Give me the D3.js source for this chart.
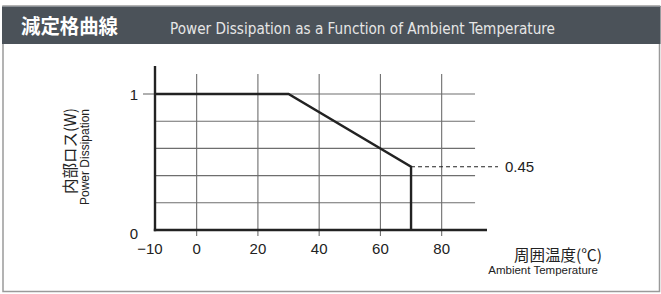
<!DOCTYPE html>
<html><head><meta charset="utf-8">
<script src="https://cdn.jsdelivr.net/npm/d3@7"></script>
<style>
html,body{margin:0;padding:0;background:#fff;}
svg{display:block;}
</style></head>
<body>
<svg id="c" width="661" height="294"></svg>
<script>
const titleJa = "減定格曲線";
const titleEn = "Power Dissipation as a Function of Ambient Temperature";
const yTitleJa = "内部ロス(W)";
const yTitleEn = "Power Dissipation";
const xTitleJa = "周囲温度(℃)";
const xTitleEn = "Ambient Temperature";

const xTicks = [-10, 0, 20, 40, 60, 80];
const xGrid = [0, 20, 40, 60, 80];
const yTicks = [0, 1];
const yGrid = [0.2, 0.4, 0.6, 0.8, 1];
const curveTemp = [-13.6, 30, 70, 70];
const curvePower = [1, 1, 0.465, 0];
const markTemp = 70;
const markPower = 0.465;
const markLabel = "0.45";

const svg = d3.select("#c");
const sans = "'Liberation Sans', Arial, Helvetica, sans-serif";

// frame
svg.append("rect").attr("x", 3).attr("y", 6).attr("width", 656.5).attr("height", 285.5)
  .attr("fill", "#fff").attr("stroke", "#9a9a9a").attr("stroke-width", 1.5);
svg.append("rect").attr("x", 2).attr("y", 6).attr("width", 658.5).attr("height", 38)
  .attr("fill", "#4b5259");
svg.append("line").attr("x1", 2).attr("x2", 661).attr("y1", 6.5).attr("y2", 6.5)
  .attr("stroke", "#8a8f94").attr("stroke-width", 1);

svg.append("text").attr("x", 21).attr("y", 34).text(titleJa)
  .attr("fill", "#fff").attr("font-size", 20).attr("font-weight", "bold")
  .attr("font-family", "'Noto Sans CJK JP', sans-serif")
  .attr("textLength", 97).attr("lengthAdjust", "spacingAndGlyphs");
svg.append("text").attr("x", 170).attr("y", 33.5).text(titleEn)
  .attr("fill", "#e6e6e6").attr("font-size", 15)
  .attr("font-family", "'Liberation Sans Narrow', 'DejaVu Sans Condensed', 'Liberation Sans', sans-serif")
  .attr("textLength", 385).attr("lengthAdjust", "spacingAndGlyphs");

// scales
const x = d3.scaleLinear().domain([-13.6, 94.8]).range([155, 487]);
const y = d3.scaleLinear().domain([0, 1]).range([230, 94]);

const g = svg.append("g");
// vertical grid
g.selectAll(".vg").data(xGrid).join("line")
  .attr("x1", d => x(d)).attr("x2", d => x(d))
  .attr("y1", y(1.147)).attr("y2", y(0) + 6)
  .attr("stroke", "#6e6e6e").attr("stroke-width", 1.1);
// horizontal grid
g.selectAll(".hg").data(yGrid).join("line")
  .attr("x1", x(-13.6)).attr("x2", x(90.9))
  .attr("y1", d => y(d)).attr("y2", d => y(d))
  .attr("stroke", "#6e6e6e").attr("stroke-width", 1.1);
// y tick at 1
g.append("line").attr("x1", 143).attr("x2", x(-13.6)).attr("y1", y(1)).attr("y2", y(1))
  .attr("stroke", "#6e6e6e").attr("stroke-width", 1.1);

// axes
g.append("line").attr("x1", x(-13.6)).attr("x2", x(-13.6)).attr("y1", y(1.206)).attr("y2", y(0) + 1.2)
  .attr("stroke", "#222").attr("stroke-width", 2.4);
g.append("line").attr("x1", x(-13.6) - 1.2).attr("x2", x(94.8)).attr("y1", y(0)).attr("y2", y(0))
  .attr("stroke", "#222").attr("stroke-width", 2.4);

// curve
const pts = curveTemp.map((t, i) => [t, curvePower[i]]);
g.append("path").attr("d", d3.line().x(d => x(d[0])).y(d => y(d[1]))(pts))
  .attr("fill", "none").attr("stroke", "#222").attr("stroke-width", 2.4)
  .attr("stroke-linejoin", "miter");

// dashed marker
g.append("line").attr("x1", x(markTemp)).attr("x2", 498)
  .attr("y1", y(markPower)).attr("y2", y(markPower))
  .attr("stroke", "#222").attr("stroke-width", 1.1).attr("stroke-dasharray", "4,3");
g.append("text").attr("x", 505).attr("y", y(markPower)).attr("dy", "0.36em")
  .text(markLabel).attr("font-size", 15).attr("font-family", sans).attr("fill", "#222");

// tick labels
const xLabelPos = d => d === -10 ? 150 : x(d);
g.selectAll(".xl").data(xTicks).join("text")
  .attr("x", d => xLabelPos(d)).attr("y", 254)
  .attr("text-anchor", "middle").attr("font-size", 15).attr("font-family", sans).attr("fill", "#222")
  .text(d => d < 0 ? "\u2212" + Math.abs(d) : d);
g.selectAll(".yl").data(yTicks).join("text")
  .attr("x", 138).attr("y", d => d === 0 ? 239 : y(d) + 5.5)
  .attr("text-anchor", "end").attr("font-size", 15).attr("font-family", sans).attr("fill", "#222")
  .text(d => d);

// y axis titles
svg.append("text").attr("transform", "translate(75.5,151) rotate(-90)")
  .attr("text-anchor", "middle").attr("font-size", 15.5)
  .attr("font-family", "'Noto Sans CJK JP', sans-serif").attr("fill", "#222").text(yTitleJa);
svg.append("text").attr("transform", "translate(88.5,157) rotate(-90)")
  .attr("text-anchor", "middle").attr("font-size", 12)
  .attr("font-family", sans).attr("fill", "#222").text(yTitleEn);

// x axis titles
svg.append("text").attr("x", 602).attr("y", 261).attr("text-anchor", "end")
  .attr("font-size", 15.5).attr("font-family", "'Noto Sans CJK JP', sans-serif").attr("fill", "#222").text(xTitleJa);
svg.append("text").attr("x", 598).attr("y", 274).attr("text-anchor", "end")
  .attr("font-size", 11.5).attr("font-family", sans).attr("fill", "#222").text(xTitleEn);
</script>
</body></html>
